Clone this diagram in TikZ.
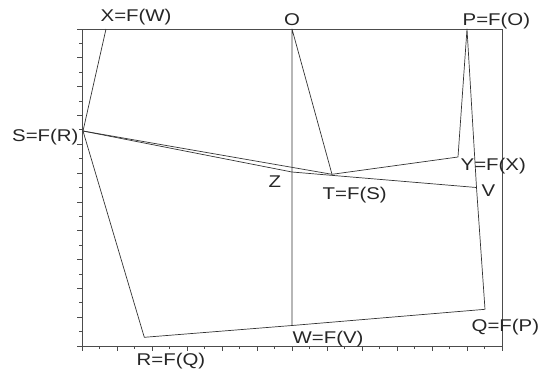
\documentclass[tikz,border=0pt]{standalone}
\usepackage{fontspec}
\setmainfont[FakeStretch=1.2]{Liberation Sans}
\begin{document}
\begin{tikzpicture}[x=1pt,y=-1pt,
  frame/.style={draw=black!70, line width=0.9pt},
  tickline/.style={draw=black!70, line width=0.8pt},
  edge/.style={draw=black!80, line width=0.7pt, line join=round},
  lbl/.style={anchor=base west, inner sep=0pt, font=\fontsize{17}{20}\selectfont, text=black!85}]
\useasboundingbox (0,0) rectangle (541,376);
% frame
\coordinate (tl) at (82,29);
\coordinate (br) at (502,346);
\draw[frame] (tl) rectangle (br);
% ticks
\foreach \k in {0,...,24}{
  \ifodd\k \def\len{3}\else\def\len{5}\fi
  \draw[tickline] (82+17.5*\k,346) -- ++(0,\len);
}
\foreach \k in {0,...,22}{
  \ifodd\k \def\len{3}\else\def\len{5}\fi
  \draw[tickline] (82,29+14.409*\k) -- ++(-\len,0);
}
% points
\coordinate (X) at (106,29);
\coordinate (O) at (292,29);
\coordinate (P) at (467,29);
\coordinate (S) at (83,131);
\coordinate (Y) at (458,157);
\coordinate (T) at (332,174.3);
\coordinate (Z) at (292,172);
\coordinate (V) at (476.5,187.5);
\coordinate (Q) at (485,309.3);
\coordinate (W) at (292,325.5);
\coordinate (R) at (144.3,337.3);
% edges
\draw[edge] (X) -- (S) -- (R) -- (W) -- (Q) -- (V) -- (P) -- (Y) -- (T) -- (O) -- (Z) -- (W);
\draw[edge] (S) -- (T);
\draw[edge] (S) -- (Z) -- (V);
% labels
\node[lbl] (lX) at (100.5,21) {X=F(W)};
\node[lbl] (lO) at (284,25) {O};
\node[lbl] (lP) at (462.5,25) {P=F(O)};
\node[lbl] (lS) at (12,141) {S=F(R)};
\node[lbl] (lY) at (460.5,170) {Y=F(X)};
\node[lbl] (lZ) at (268.5,187) {Z};
\node[lbl] (lT) at (322.5,199) {T=F(S)};
\node[lbl] (lV) at (481.5,196.7) {V};
\node[lbl] (lW) at (292.5,343) {W=F(V)};
\node[lbl] (lQ) at (471.5,331.7) {Q=F(P)};
\node[lbl] (lR) at (136.5,365.7) {R=F(Q)};
\end{tikzpicture}
\end{document}
